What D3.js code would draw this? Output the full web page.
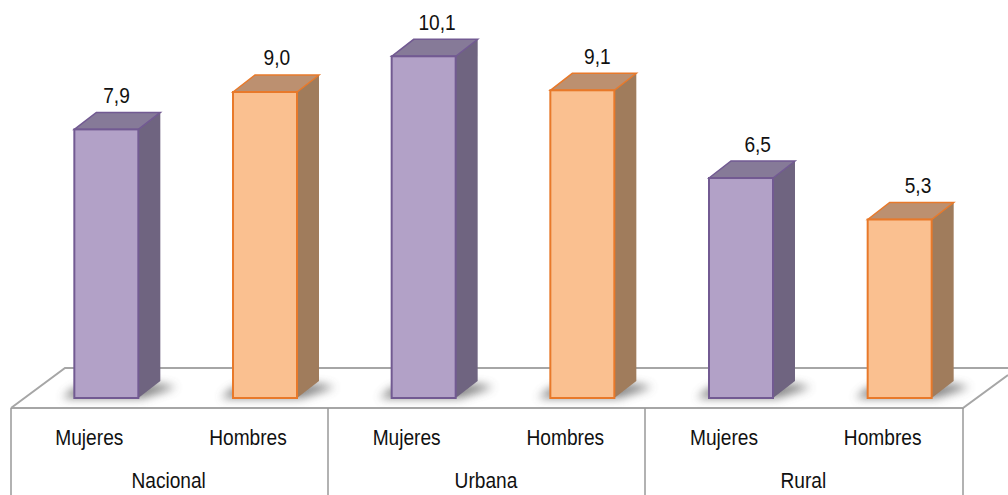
<!DOCTYPE html>
<html><head><meta charset="utf-8">
<script src="https://cdnjs.cloudflare.com/ajax/libs/d3/7.8.5/d3.min.js"></script>
<style>html,body{margin:0;padding:0;background:#fff;overflow:hidden}
text{font-family:"Liberation Sans",Arial,sans-serif;fill:#111;font-size:22px;text-anchor:middle}</style>
</head><body><svg id="c" width="1008" height="495"></svg>
<script>
const groups = ["Nacional","Urbana","Rural"];
const sexes = ["Mujeres","Hombres"];
const nacional = [7.9,9.0];
const urbana = [10.05,9.05];
const rural = [6.47,5.25];
const seriesByGroup = [nacional,urbana,rural];
const labels = ["7,9","9,0","10,1","9,1","6,5","5,3"];
const palette = {
  Mujeres:{front:"#b2a1c7",side:"#6f6480",top:"#867a98",stroke:"#725a92"},
  Hombres:{front:"#fac090",side:"#a07c5c",top:"#bc9070",stroke:"#e8792a"}
};
const rows = groups.flatMap((g,i)=>sexes.map((s,j)=>({g,s,v:seriesByGroup[i][j],key:g+"|"+s})));
rows.forEach((d,i)=>d.label=labels[i]);

const svg = d3.select("#c");
const defs = svg.append("defs");
defs.append("filter").attr("id","blur").attr("x","-30%").attr("y","-100%").attr("width","160%").attr("height","300%")
  .append("feGaussianBlur").attr("stdDeviation",5);

const x = d3.scaleBand().domain(rows.map(d=>d.key)).range([11,963]);
const xLabel = d3.scalePoint().domain(rows.map(d=>d.key)).range([116.5,918]);
const xg = d3.scaleBand().domain(groups).range([11,963]);
const y = d3.scaleLinear().domain([0,10]).range([398,58]);
const barW = 64, dx = 22, dy = -17, off = 16;
const frontY = 408, backY = 368, narrow = 0.87;
const narrowText = sel => sel.attr("transform",function(){
  const px = +this.getAttribute("x");
  return `translate(${px*(1-narrow)},0) scale(${narrow},1)`;
});

svg.append("path").attr("fill","none").attr("stroke","#a6a6a6").attr("stroke-width",2)
  .attr("d",`M11,${frontY}L65,${backY}L1008,${backY}M11,${frontY}L963,${frontY}L1008,375`);
const bounds = [...groups.map(g=>Math.floor(xg(g))), 963];
svg.selectAll("line.sep").data(bounds).join("line").attr("class","sep")
  .attr("x1",d=>d).attr("x2",d=>d).attr("y1",frontY).attr("y2",495)
  .attr("stroke","#999").attr("stroke-width",1.5);

const bars = svg.selectAll("g.bar").data(rows).join("g").attr("class","bar");
const left = d=>x(d.key)+x.bandwidth()/2+off-barW/2;
bars.append("path").attr("filter","url(#blur)").attr("fill","#555").attr("opacity",.75)
  .attr("d",d=>{const l=left(d),r=l+barW;return `M${l-12},398L${r+4},398L${r+dx+16},387L${r+dx},384L${l},388Z`;});
bars.append("path").attr("fill",d=>palette[d.s].side)
  .attr("d",d=>{const r=left(d)+barW,t=y(d.v),b=y(0);return `M${r},${t}L${r+dx},${t+dy}L${r+dx},${b+dy}L${r},${b}Z`;});
bars.append("path").attr("fill",d=>palette[d.s].top).attr("stroke",d=>palette[d.s].stroke).attr("stroke-width",1.5)
  .attr("d",d=>{const l=left(d),r=l+barW,t=y(d.v);return `M${l},${t}L${l+dx},${t+dy}L${r+dx},${t+dy}L${r},${t}Z`;});
bars.append("rect").attr("x",left).attr("y",d=>y(d.v)).attr("width",barW).attr("height",d=>y(0)-y(d.v))
  .attr("fill",d=>palette[d.s].front).attr("stroke",d=>palette[d.s].stroke).attr("stroke-width",2);
bars.append("text").attr("x",d=>xLabel(d.key)).attr("y",d=>y(d.v)+dy-9.5).text(d=>d.label).call(narrowText);
svg.selectAll("text.sx").data(rows).join("text").attr("class","sx")
  .attr("x",d=>x(d.key)+x.bandwidth()/2-1).attr("y",445).text(d=>d.s).call(narrowText);
svg.selectAll("text.gx").data(groups).join("text").attr("class","gx")
  .attr("x",d=>xg(d)+xg.bandwidth()/2-1).attr("y",488).text(d=>d).call(narrowText);
</script></body></html>
